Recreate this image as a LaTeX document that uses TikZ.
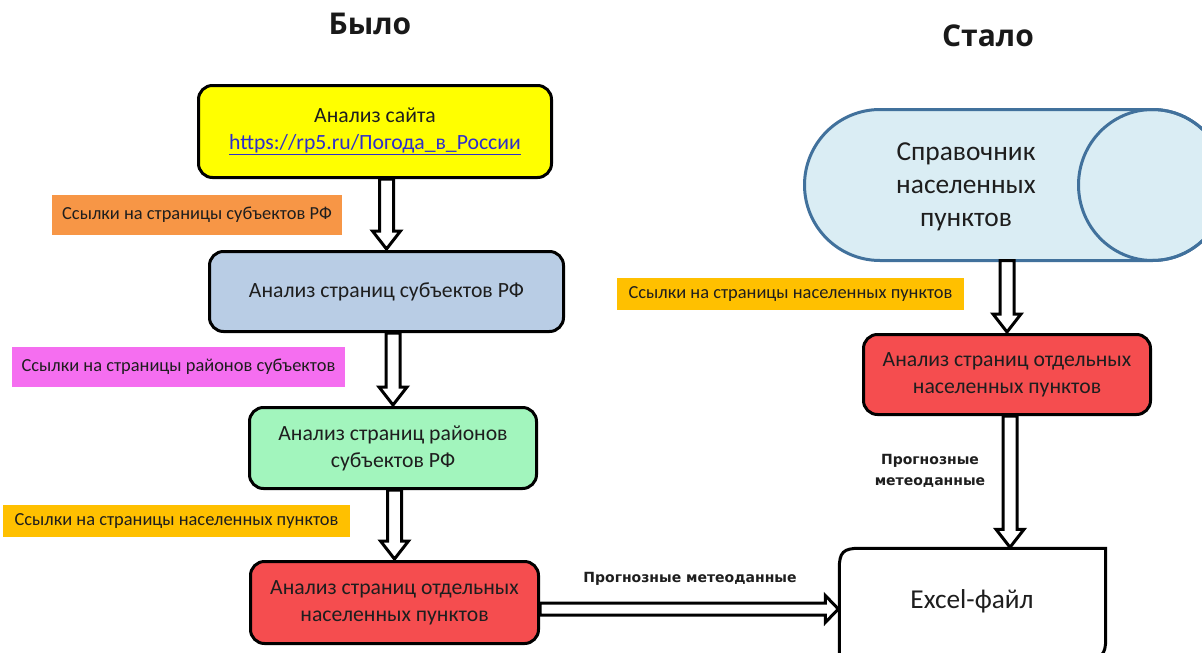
\documentclass[tikz,border=0pt]{standalone}
\usepackage{fontspec}
\setmainfont{Carlito}
\newfontfamily\titlefont{Open Sans}
\newfontfamily\lblfont{DejaVu Sans}
\usetikzlibrary{calc}
\definecolor{cYellow}{HTML}{FFFF00}
\definecolor{cBlue}{HTML}{B9CDE5}
\definecolor{cGreen}{HTML}{A2F5BD}
\definecolor{cRed}{HTML}{F54D4F}
\definecolor{cOrange}{HTML}{F79646}
\definecolor{cMagenta}{HTML}{F56EF0}
\definecolor{cAmber}{HTML}{FFC000}
\definecolor{cCylFill}{HTML}{DAEDF4}
\definecolor{cCylLine}{HTML}{41719C}
\definecolor{cLink}{HTML}{2E2ECC}
\definecolor{cText}{HTML}{1E1E1E}
\newcommand\fatdown[2]{%
  \draw[fatarrow] let \p1=(#1), \p2=(#2) in
    (\x1-7pt,\y1) -- (\x1-7pt,\y2+19pt) -- (\x1-14pt,\y2+19pt) -- (\x1,\y2+1pt)
    -- (\x1+14pt,\y2+19pt) -- (\x1+7pt,\y2+19pt) -- (\x1+7pt,\y1) -- cycle;}
\newcommand\fatright[2]{%
  \draw[fatarrow] let \p1=(#1), \p2=(#2) in
    (\x1,\y1+6pt) -- (\x2-14pt,\y1+6pt) -- (\x2-14pt,\y1+13.5pt) -- (\x2-1pt,\y1)
    -- (\x2-14pt,\y1-13.5pt) -- (\x2-14pt,\y1-6pt) -- (\x1,\y1-6pt) -- cycle;}
\begin{document}
\begin{tikzpicture}[x=1pt,y=-1pt,
  box/.style={draw=black, line width=3pt, rounded corners=14pt, align=center,
    inner sep=0pt, text=cText, font=\fontsize{21.7}{27}\selectfont},
  lbl/.style={inner sep=0pt, align=center, text=cText, font=\fontsize{18.4}{20}\selectfont},
  bold lbl/.style={inner sep=0pt, align=center, text=cText, font=\lblfont\bfseries\fontsize{14}{21}\selectfont},
  title/.style={inner sep=0pt, font=\titlefont\bfseries\fontsize{30}{36}\selectfont, text=black!90},
  fatarrow/.style={draw=black, line width=3pt, fill=white, line join=miter},
  boxline/.style={draw=black, line width=3pt}]
\useasboundingbox (0,0) rectangle (1202,653);
\clip (0,0) rectangle (1202,653);
\fill[white] (0,0) rectangle (1202,653);

% titles
\node[title] (t1) at (370,24) {Было};
\node[title] (t2) at (988,36) {Стало};

% left column boxes
\node[box, fill=cYellow, minimum width=353pt, minimum height=92pt] (b1) at (375,131.5)
  {Анализ сайта\\\textcolor{cLink}{\underline{https://rp5.ru/Погода\_в\_России}}};
\node[box, fill=cBlue, minimum width=354pt, minimum height=80pt] (b2) at (386.5,291.5)
  {Анализ страниц субъектов РФ};
\node[box, fill=cGreen, minimum width=287pt, minimum height=81pt] (b3) at (393,448)
  {Анализ страниц районов\\субъектов РФ};
\node[box, fill=cRed, minimum width=288pt, minimum height=82pt] (b4) at (394.5,602.5)
  {Анализ страниц отдельных\\населенных пунктов};

% left labels
\node[lbl, fill=cOrange, minimum width=290pt, minimum height=40pt] (l1) at (197,215)
  {Ссылки на страницы субъектов РФ};
\node[lbl, fill=cMagenta, minimum width=333pt, minimum height=40pt] (l2) at (178.5,367)
  {Ссылки на страницы районов субъектов};
\node[lbl, fill=cAmber, minimum width=347pt, minimum height=32pt] (l3) at (176.5,521)
  {Ссылки на страницы населенных пунктов};

% right: cylinder
\node[inner sep=0pt, minimum width=273pt, minimum height=151pt] (cyl) at (1008,185) {};
\path[boxline, draw=cCylLine, fill=cCylFill]
  (880,109.5) -- (1152.5,109.5)
  arc[start angle=-90, end angle=90, x radius=74, y radius=75.5]
  -- (880,260.5)
  arc[start angle=90, end angle=270, x radius=75.5, y radius=75.5] -- cycle;
\draw[boxline, draw=cCylLine] (1152.5,185) ellipse[x radius=74, y radius=75.5];
\node[align=center, inner sep=0pt, text=cText, font=\fontsize{27.4}{33}\selectfont] (cyltext) at (966,187)
  {Справочник\\населенных\\пунктов};

\node[lbl, fill=cAmber, minimum width=347pt, minimum height=32pt] (lr) at (790.5,294)
  {Ссылки на страницы населенных пунктов};
\node[box, fill=cRed, minimum width=287pt, minimum height=80pt] (br) at (1007,374.5)
  {Анализ страниц отдельных\\населенных пунктов};

% Excel box
\node[inner sep=0pt, minimum width=266pt, minimum height=110pt] (excel) at (972.5,603.5) {};
\draw[boxline, fill=white] (excel.south west) -- ($(excel.north west)+(0,20)$)
  .. controls ($(excel.north west)+(0,4)$) and ($(excel.north west)+(4,0)$) .. ($(excel.north west)+(20,0)$)
  -- (excel.north east) -- ($(excel.south east)+(0,-20)$)
  .. controls ($(excel.south east)+(0,-4)$) and ($(excel.south east)+(-4,0)$) .. ($(excel.south east)+(-20,0)$) -- cycle;
\node[inner sep=0pt, text=cText, font=\fontsize{27.3}{30}\selectfont] (exceltext) at (972,601) {Excel-файл};

% bold labels
\node[bold lbl] (p1) at (690,579) {Прогнозные метеоданные};
\node[bold lbl] (p2) at (930,471) {Прогнозные\\метеоданные};

% arrows
\coordinate (a1s) at (b1.south -| b2.north);
\fatdown{a1s}{b2.north}
\coordinate (a2s) at (b2.south -| b3.north);
\fatdown{a2s}{b3.north}
\coordinate (a3s) at (b3.south -| b4.north);
\fatdown{a3s}{b4.north}
\coordinate (a4s) at (cyl.south -| br.north);
\fatdown{a4s}{br.north}
\coordinate (a5s) at ($(br.south)+(3,0)$);
\coordinate (a5e) at (a5s |- excel.north);
\fatdown{a5s}{a5e}
\coordinate (hs) at ($(b4.east)+(0,6.5)$);
\coordinate (he) at (hs -| excel.west);
\fatright{hs}{he}
\end{tikzpicture}
\end{document}
